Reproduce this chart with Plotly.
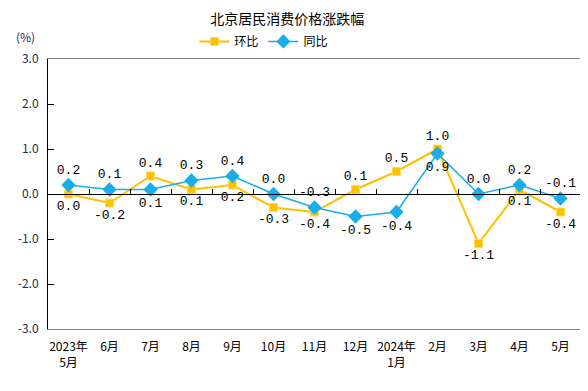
import plotly.graph_objects as go

categories = ["2023年<br>5月", "6月", "7月", "8月", "9月", "10月", "11月", "12月",
              "2024年<br>1月", "2月", "3月", "4月", "5月"]
mom = [0.0, -0.2, 0.4, 0.1, 0.2, -0.3, -0.4, 0.1, 0.5, 1.0, -1.1, 0.1, -0.4]
yoy = [0.2, 0.1, 0.1, 0.3, 0.4, 0.0, -0.3, -0.5, -0.4, 0.9, 0.0, 0.2, -0.1]
mom_pos = ["bottom", "bottom", "top", "bottom", "bottom", "bottom", "bottom",
           "top", "top", "top", "bottom", "bottom", "bottom"]
yoy_pos = ["top", "top", "bottom", "top", "top", "top", "top",
           "bottom", "bottom", "bottom", "top", "top", "top"]
y_ticks = [3, 2, 1, 0, -1, -2, -3]
y_ticktext = ["3.0", "2.0", "1.0", "0.0", "-1.0", "-2.0", "-3.0"]

ORANGE = "#FFC000"
BLUE = "#1AADE9"
CJK = "Noto Sans CJK SC"
LABEL_FONT = dict(family="Liberation Mono", size=13, color="#000000")

fig = go.Figure()
fig.add_trace(go.Scatter(
    x=categories, y=mom, name="环比", mode="lines+markers+text",
    line=dict(color=ORANGE, width=2),
    marker=dict(symbol="square", size=8, color=ORANGE, line=dict(color="#FFD75A", width=1)),
    text=[f"{v:.1f}" for v in mom],
    textposition=[p + " center" for p in mom_pos],
    textfont=LABEL_FONT, cliponaxis=False,
))
fig.add_trace(go.Scatter(
    x=categories, y=yoy, name="同比", mode="lines+markers+text",
    line=dict(color=BLUE, width=1.5),
    marker=dict(symbol="diamond", size=11, color=BLUE),
    text=[f"{v:.1f}" for v in yoy],
    textposition=[p + " center" for p in yoy_pos],
    textfont=LABEL_FONT, cliponaxis=False,
))
# invisible helper trace so the zero-line axis and right border axis are drawn
fig.add_trace(go.Scatter(x=categories, y=[0] * len(categories), xaxis="x2", yaxis="y2",
                         mode="markers", marker=dict(opacity=0), showlegend=False,
                         hoverinfo="skip"))

n = len(categories)
# note: page body has an 8px margin, so margins are offset to compensate
fig.update_layout(
    width=588, height=391,
    margin=dict(l=40, r=15, t=51, b=70),
    paper_bgcolor="white", plot_bgcolor="white",
    font=dict(family=CJK, size=12, color="#000000"),
    title=dict(text="北京居民消费价格涨跌幅", x=0.475, xanchor="center", y=0.972, yanchor="middle",
               font=dict(family=CJK, size=14, color="#000000")),
    showlegend=True,
    legend=dict(orientation="h", x=0.405, xanchor="center", y=1.065, yanchor="middle",
                font=dict(family=CJK, size=12), itemwidth=30, tracegroupgap=0,
                bgcolor="rgba(0,0,0,0)"),
    xaxis=dict(type="category", range=[-0.5, n - 0.5], showgrid=False, zeroline=False,
               showline=True, linecolor="#808080", linewidth=1, mirror=True,
               ticks="", tickfont=dict(family=CJK, size=12, color="#000000"),
               ticklabelstandoff=7, automargin=False),
    xaxis2=dict(type="category", overlaying="x", anchor="free", position=0.5,
                range=[-0.5, n - 0.5], showgrid=False, zeroline=False,
                showline=True, linecolor="#000000", linewidth=1,
                ticks="inside", tickson="boundaries", ticklen=5, tickcolor="#000000",
                showticklabels=False, side="bottom"),
    yaxis=dict(range=[-3, 3], tickvals=y_ticks, ticktext=y_ticktext, showgrid=False,
               zeroline=False, showline=True, linecolor="#000000", linewidth=1,
               ticks="inside", ticklen=6, tickcolor="#000000",
               tickfont=dict(family=CJK, size=12, color="#1F2A44"), ticklabelstandoff=6,
               automargin=False),
    yaxis2=dict(range=[-3, 3], overlaying="y", side="right", anchor="x", showgrid=False,
                zeroline=False, showline=True, linecolor="#808080", linewidth=1,
                showticklabels=False, ticks=""),
    annotations=[dict(text="(%)", xref="paper", yref="paper", x=-0.043, y=1.083,
                      xanchor="center", yanchor="middle", showarrow=False,
                      font=dict(family=CJK, size=12, color="#1F2A44"))],
)
fig.write_html("out.html")
